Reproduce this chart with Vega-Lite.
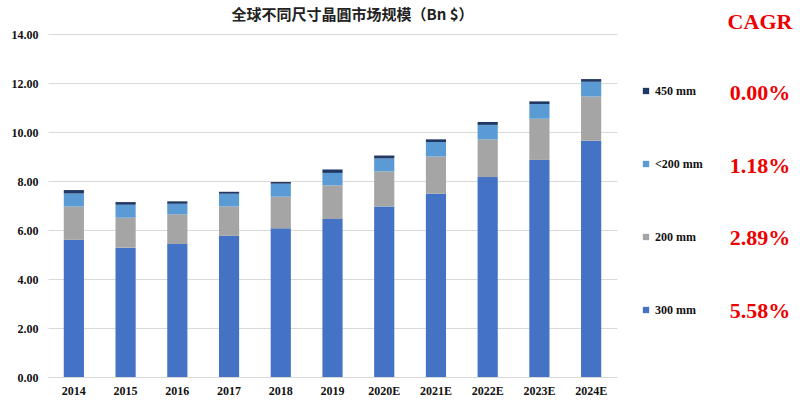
{
  "$schema": "https://vega.github.io/schema/vega-lite/v6.json",
  "padding": {"left": 11, "top": 8, "right": 0, "bottom": 3},
  "background": "white",
  "bounds": "flush",
  "spacing": 110,
  "config": {
    "view": {"stroke": null},
    "font": "Liberation Serif"
  },
  "datasets": {
    "bars": [
      {"year": "2014", "size": "300 mm", "ord": 1, "value": 5.60},
      {"year": "2014", "size": "200 mm", "ord": 2, "value": 1.36},
      {"year": "2014", "size": "<200 mm", "ord": 3, "value": 0.53},
      {"year": "2014", "size": "450 mm", "ord": 4, "value": 0.14},
      {"year": "2015", "size": "300 mm", "ord": 1, "value": 5.28},
      {"year": "2015", "size": "200 mm", "ord": 2, "value": 1.22},
      {"year": "2015", "size": "<200 mm", "ord": 3, "value": 0.53},
      {"year": "2015", "size": "450 mm", "ord": 4, "value": 0.11},
      {"year": "2016", "size": "300 mm", "ord": 1, "value": 5.43},
      {"year": "2016", "size": "200 mm", "ord": 2, "value": 1.21},
      {"year": "2016", "size": "<200 mm", "ord": 3, "value": 0.43},
      {"year": "2016", "size": "450 mm", "ord": 4, "value": 0.10},
      {"year": "2017", "size": "300 mm", "ord": 1, "value": 5.76},
      {"year": "2017", "size": "200 mm", "ord": 2, "value": 1.20},
      {"year": "2017", "size": "<200 mm", "ord": 3, "value": 0.52},
      {"year": "2017", "size": "450 mm", "ord": 4, "value": 0.08},
      {"year": "2018", "size": "300 mm", "ord": 1, "value": 6.07},
      {"year": "2018", "size": "200 mm", "ord": 2, "value": 1.29},
      {"year": "2018", "size": "<200 mm", "ord": 3, "value": 0.53},
      {"year": "2018", "size": "450 mm", "ord": 4, "value": 0.07},
      {"year": "2019", "size": "300 mm", "ord": 1, "value": 6.45},
      {"year": "2019", "size": "200 mm", "ord": 2, "value": 1.37},
      {"year": "2019", "size": "<200 mm", "ord": 3, "value": 0.51},
      {"year": "2019", "size": "450 mm", "ord": 4, "value": 0.14},
      {"year": "2020E", "size": "300 mm", "ord": 1, "value": 6.96},
      {"year": "2020E", "size": "200 mm", "ord": 2, "value": 1.43},
      {"year": "2020E", "size": "<200 mm", "ord": 3, "value": 0.53},
      {"year": "2020E", "size": "450 mm", "ord": 4, "value": 0.12},
      {"year": "2021E", "size": "300 mm", "ord": 1, "value": 7.48},
      {"year": "2021E", "size": "200 mm", "ord": 2, "value": 1.52},
      {"year": "2021E", "size": "<200 mm", "ord": 3, "value": 0.59},
      {"year": "2021E", "size": "450 mm", "ord": 4, "value": 0.11},
      {"year": "2022E", "size": "300 mm", "ord": 1, "value": 8.16},
      {"year": "2022E", "size": "200 mm", "ord": 2, "value": 1.54},
      {"year": "2022E", "size": "<200 mm", "ord": 3, "value": 0.59},
      {"year": "2022E", "size": "450 mm", "ord": 4, "value": 0.12},
      {"year": "2023E", "size": "300 mm", "ord": 1, "value": 8.86},
      {"year": "2023E", "size": "200 mm", "ord": 2, "value": 1.68},
      {"year": "2023E", "size": "<200 mm", "ord": 3, "value": 0.60},
      {"year": "2023E", "size": "450 mm", "ord": 4, "value": 0.11},
      {"year": "2024E", "size": "300 mm", "ord": 1, "value": 9.64},
      {"year": "2024E", "size": "200 mm", "ord": 2, "value": 1.81},
      {"year": "2024E", "size": "<200 mm", "ord": 3, "value": 0.60},
      {"year": "2024E", "size": "450 mm", "ord": 4, "value": 0.11}
    ],
    "cagr": [
      {"size": "450 mm", "cagr": "0.00%"},
      {"size": "<200 mm", "cagr": "1.18%"},
      {"size": "200 mm", "cagr": "2.89%"},
      {"size": "300 mm", "cagr": "5.58%"}
    ]
  },
  "hconcat": [
    {
      "width": 569,
      "height": 343,
      "data": {"name": "bars"},
      "title": {
        "text": "全球不同尺寸晶圓市场规模（Bn $）",
        "font": "Noto Sans CJK SC",
        "fontSize": 15,
        "fontWeight": "bold",
        "color": "#222222",
        "anchor": "middle",
        "dx": 20,
        "offset": 5
      },
      "mark": {"type": "bar"},
      "encoding": {
        "x": {
          "field": "year",
          "type": "nominal",
          "sort": null,
          "scale": {"paddingInner": 0.61, "paddingOuter": 0.305},
          "axis": {
            "title": null,
            "labelAngle": 0,
            "labelFont": "Liberation Serif",
            "labelFontSize": 12,
            "labelFontWeight": "bold",
            "labelColor": "#111111",
            "labelPadding": 8,
            "ticks": false,
            "domain": true,
            "domainColor": "#D9D9D9",
            "grid": false
          }
        },
        "y": {
          "field": "value",
          "type": "quantitative",
          "stack": "zero",
          "scale": {"domain": [0, 14], "nice": false},
          "axis": {
            "title": null,
            "values": [0, 2, 4, 6, 8, 10, 12, 14],
            "format": ".2f",
            "labelFont": "Liberation Serif",
            "labelFontSize": 12,
            "labelFontWeight": "bold",
            "labelColor": "#111111",
            "labelPadding": 10,
            "ticks": false,
            "domain": false,
            "grid": true,
            "gridColor": "#D9D9D9",
            "gridWidth": 1
          }
        },
        "color": {
          "field": "size",
          "type": "nominal",
          "scale": {
            "domain": ["450 mm", "<200 mm", "200 mm", "300 mm"],
            "range": ["#203864", "#5B9BD5", "#A5A5A5", "#4472C4"]
          },
          "legend": {
            "orient": "none",
            "legendX": 592,
            "legendY": 51,
            "title": null,
            "symbolType": "square",
            "symbolSize": 40,
            "symbolStrokeWidth": 0,
            "labelFont": "Liberation Serif",
            "labelFontSize": 12,
            "labelFontWeight": "bold",
            "labelColor": "#111111",
            "labelOffset": 3,
            "rowPadding": 61
          }
        },
        "order": {"field": "ord", "type": "quantitative"}
      }
    },
    {
      "width": 66,
      "height": 336,
      "data": {"name": "cagr"},
      "title": {
        "text": "CAGR",
        "font": "Liberation Serif",
        "fontSize": 22,
        "fontWeight": "bold",
        "color": "#EE0000",
        "anchor": "middle",
        "offset": 0
      },
      "mark": {
        "type": "text",
        "font": "Liberation Serif",
        "fontSize": 22,
        "fontWeight": "bold",
        "color": "#EE0000",
        "align": "center",
        "baseline": "middle"
      },
      "encoding": {
        "y": {
          "field": "size",
          "type": "nominal",
          "sort": ["450 mm", "<200 mm", "200 mm", "300 mm"],
          "scale": {"type": "point", "padding": 0.81},
          "axis": null
        },
        "text": {"field": "cagr", "type": "nominal"}
      }
    }
  ]
}
